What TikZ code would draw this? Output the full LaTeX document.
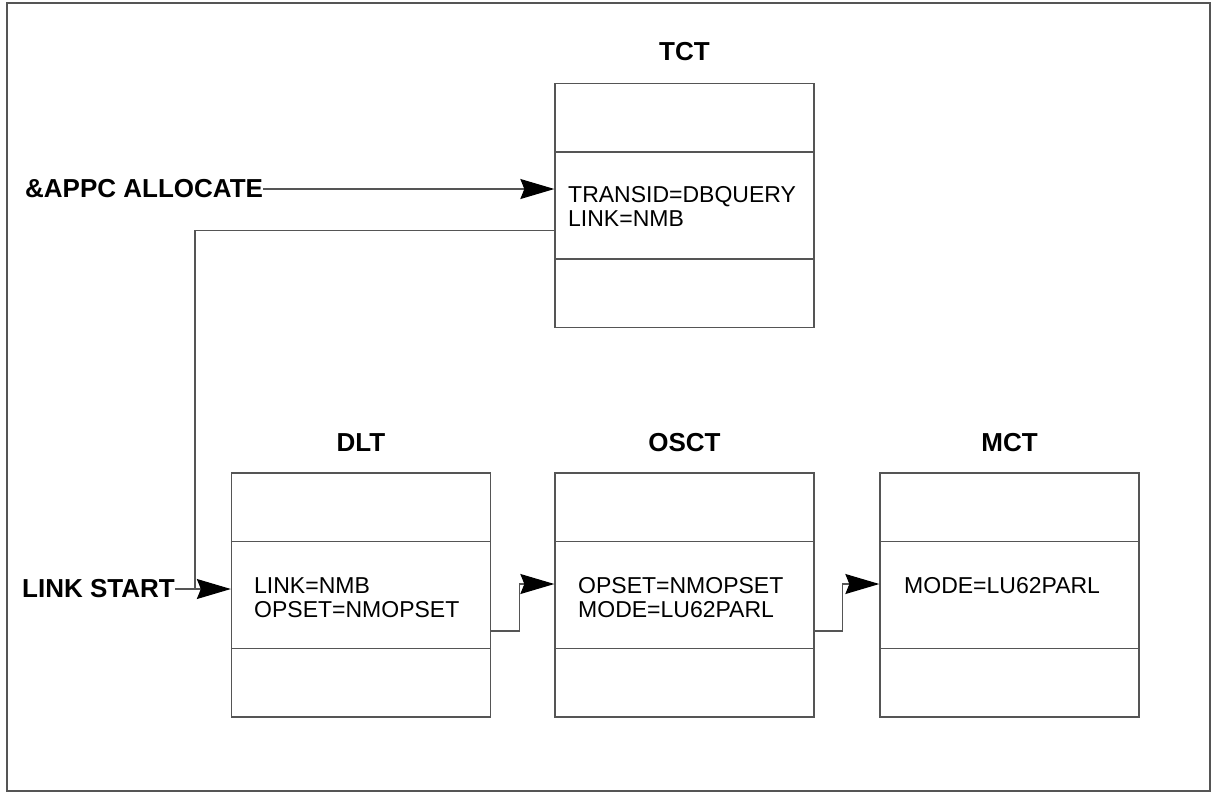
\documentclass[tikz,border=0pt]{standalone}
\usepackage{fontspec}
\setmainfont{Liberation Sans}
\usetikzlibrary{arrows.meta,calc}
\definecolor{ln}{HTML}{555555}
\begin{document}
\begin{tikzpicture}[x=1pt,y=-1pt,
  tbl/.style={draw=ln,line width=1.3pt,minimum width=259pt,minimum height=244pt,inner sep=0pt},
  div/.style={draw=ln,line width=1.3pt},
  ttl/.style={font=\fontsize{26}{30}\selectfont\bfseries,inner sep=0pt},
  lbl/.style={font=\fontsize{26}{30}\selectfont\bfseries,inner sep=0pt,anchor=west},
  body/.style={font=\fontsize{23}{26}\selectfont,inner sep=0pt,anchor=base west},
  conn/.style={draw=ln,line width=1.2pt},
  arr/.style={conn,-{Stealth[length=34pt,width=20pt,inset=4pt,black]}}]
\useasboundingbox (0,0) rectangle (1212,793);
\draw[draw=ln,line width=1.5pt] (7,3) rectangle (1210,791);
% boxes
\node[tbl] (tct) at (684.5,205.5) {};
\node[tbl] (dlt) at (361,595) {};
\node[tbl] (osct) at (684.5,595) {};
\node[tbl] (mct) at (1009.5,595) {};
\foreach \b in {tct,dlt,osct,mct}{
  \draw[div] ($(\b.north west)+(0,69)$) -- ($(\b.north east)+(0,69)$);
  \draw[div] ($(\b.north west)+(0,176)$) -- ($(\b.north east)+(0,176)$);
}
% titles
\node[ttl] (tctl) at (684.5,52) {TCT};
\node[ttl] (dltl) at (361,443) {DLT};
\node[ttl] (osctl) at (684.5,443) {OSCT};
\node[ttl] (mctl) at (1009.5,443) {MCT};
% contents
\node[body] (t1) at (568,202) {TRANSID=DBQUERY};
\node[body] (t2) at (568,226) {LINK=NMB};
\node[body] (d1) at (254,593) {LINK=NMB};
\node[body] (d2) at (254,617) {OPSET=NMOPSET};
\node[body] (o1) at (578,593) {OPSET=NMOPSET};
\node[body] (o2) at (578,617) {MODE=LU62PARL};
\node[body] (m1) at (904,593) {MODE=LU62PARL};
% side labels
\node[lbl] (appc) at (25,189) {\&APPC ALLOCATE};
\node[lbl] (lnk) at (22,589) {LINK START};
% connectors
\draw[arr] (appc.east) -- (appc.east -| tct.west);
\coordinate (jn) at ([xshift=20pt]lnk.east);
\draw[conn] ($(tct.north west)+(0,148)$) -| (jn);
\draw[arr] (lnk.east) -- (lnk.east -| dlt.west);
\draw[arr] ($(dlt.east)+(0,36)$) -- ++(28,0) |- ($(osct.west)+(0,-11)$);
\draw[arr] ($(osct.east)+(0,36)$) -- ++(28,0) |- ($(mct.west)+(0,-11)$);
\end{tikzpicture}
\end{document}
